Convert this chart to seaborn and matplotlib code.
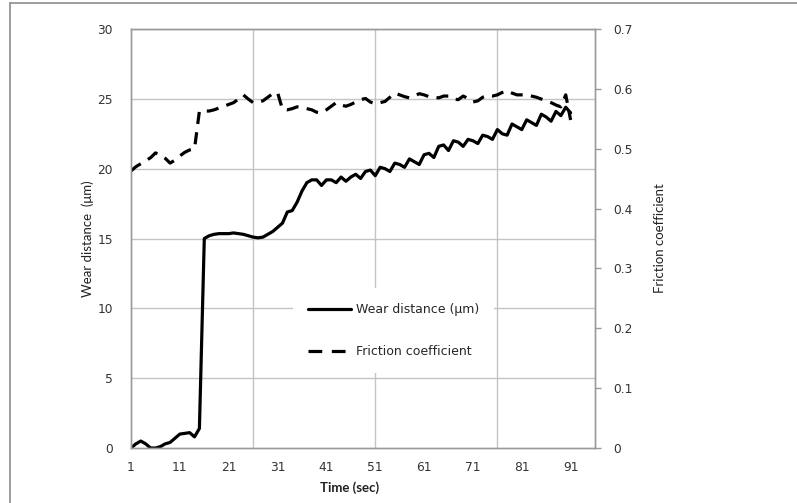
import numpy as np
import pandas as pd
import seaborn as sns
import matplotlib.pyplot as plt
from matplotlib.lines import Line2D

sns.set_style("white")
plt.rcParams["font.family"] = ["DejaVu Sans"]

# data
time_sec = list(range(1, 92))
wear_um = [
    0.0, 0.3, 0.5, 0.3, 0.0, 0.0, 0.1, 0.3, 0.4, 0.7,
    1.0, 1.05, 1.1, 0.8, 1.4, 15.0, 15.2, 15.3, 15.35, 15.35,
    15.35, 15.4, 15.35, 15.3, 15.2, 15.1, 15.05, 15.1, 15.3, 15.5,
    15.8, 16.1, 16.9, 17.0, 17.6, 18.4, 19.0, 19.2, 19.2, 18.8,
    19.2, 19.2, 19.0, 19.4, 19.1, 19.4, 19.6, 19.3, 19.8, 19.9,
    19.5, 20.1, 20.0, 19.8, 20.4, 20.3, 20.1, 20.7, 20.5, 20.3,
    21.0, 21.1, 20.8, 21.6, 21.7, 21.3, 22.0, 21.9, 21.6, 22.1,
    22.0, 21.8, 22.4, 22.3, 22.1, 22.8, 22.5, 22.4, 23.2, 23.0,
    22.8, 23.5, 23.3, 23.1, 23.9, 23.7, 23.4, 24.1, 23.8, 24.4,
    24.0,
]
friction = [
    0.463, 0.470, 0.475, 0.480, 0.485, 0.493, 0.490, 0.484, 0.476, 0.481,
    0.488, 0.494, 0.498, 0.500, 0.563, 0.563, 0.563, 0.565, 0.568, 0.571,
    0.574, 0.577, 0.583, 0.590, 0.583, 0.577, 0.578, 0.580, 0.586, 0.592,
    0.594, 0.566, 0.565, 0.567, 0.570, 0.569, 0.567, 0.565, 0.561, 0.560,
    0.565, 0.571, 0.577, 0.573, 0.571, 0.574, 0.578, 0.582, 0.584, 0.578,
    0.575, 0.577, 0.579, 0.586, 0.593, 0.590, 0.587, 0.585, 0.588, 0.592,
    0.590, 0.587, 0.586, 0.585, 0.588, 0.588, 0.583, 0.582, 0.588, 0.584,
    0.578, 0.580, 0.586, 0.589, 0.588, 0.590, 0.594, 0.597, 0.593, 0.590,
    0.590, 0.590, 0.588, 0.586, 0.583, 0.580, 0.577, 0.573, 0.570, 0.590,
    0.548,
]
x_ticks = list(range(1, 92, 10))
x_grid = [26, 51, 76]

df = pd.DataFrame({"Time": time_sec, "Wear": wear_um, "Friction": friction})

fig = plt.figure(figsize=(7.97, 5.03), dpi=100)
ax = fig.add_axes([0.1644, 0.1093, 0.5822, 0.8330])
ax2 = ax.twinx()

grid_c = "#c4c4c4"
dash = (3.8, 2.6)
sns.lineplot(data=df, x="Time", y="Wear", ax=ax, color="black", lw=2.3)
sns.lineplot(data=df, x="Time", y="Friction", ax=ax2, color="black", lw=2.3)
ax2.lines[0].set_dashes(dash)

ax.set_xlim(1, 96)
ax.set_ylim(0, 30)
ax2.set_ylim(0, 0.7)
ax.set_xticks(x_ticks)
ax.set_yticks(np.arange(0, 31, 5))
ax2.set_yticks(np.round(np.arange(0, 0.71, 0.1), 1))
ax2.set_yticklabels(["0"] + [f"{v:.1f}" for v in np.arange(0.1, 0.71, 0.1)])

for v in range(5, 31, 5):
    ax.axhline(v, color=grid_c, lw=1, zorder=0)
for v in x_grid:
    ax.axvline(v, color=grid_c, lw=1, zorder=0)

for a in (ax, ax2):
    for s in a.spines.values():
        s.set_color("#9a9a9a")
        s.set_linewidth(1)
ax.tick_params(axis="both", length=0, labelsize=8.8, labelcolor="#333333")
ax.tick_params(axis="y", pad=13)
ax.tick_params(axis="x", pad=9)
ax2.tick_params(axis="y", length=4, color="#9a9a9a", width=1,
                labelsize=8.8, labelcolor="#333333", pad=9)

lab_font = ["Lato", "DejaVu Sans"]
ax.set_ylabel("Wear distance  (μm)", fontsize=9.5, family=lab_font, color="#222222")
ax2.set_ylabel("Friction coefficient", fontsize=9.5, family=lab_font, color="#222222")
ax.set_xlabel("Time (sec)", fontsize=9.5, family=lab_font, weight="bold", color="#222222")
ax.yaxis.set_label_coords(-0.08, 0.5)
ax2.yaxis.set_label_coords(1.127, 0.5)
ax.xaxis.set_label_coords(0.47, -0.079)

handles = [Line2D([], [], color="black", lw=2.3),
           Line2D([], [], color="black", lw=2.3, dashes=(4.3, 3.0))]
leg = ax2.legend(handles, ["Wear distance (μm)", "Friction coefficient"],
                 loc="center", bbox_to_anchor=(0.565, 0.28), frameon=True,
                 fontsize=9, handlelength=3.5, handletextpad=0.35,
                 labelspacing=2.3, borderpad=1.2)
leg.get_frame().set_facecolor("white")
leg.get_frame().set_edgecolor("none")
leg.get_frame().set_alpha(1)

# chart area border (Excel style)
fig.add_artist(Line2D([0.0125, 0.0125], [0, 0.994], color="#8c8c8c", lw=1.2))
fig.add_artist(Line2D([0.0125, 1], [0.994, 0.994], color="#8c8c8c", lw=1.2))

fig.savefig("out.png", dpi=100)
